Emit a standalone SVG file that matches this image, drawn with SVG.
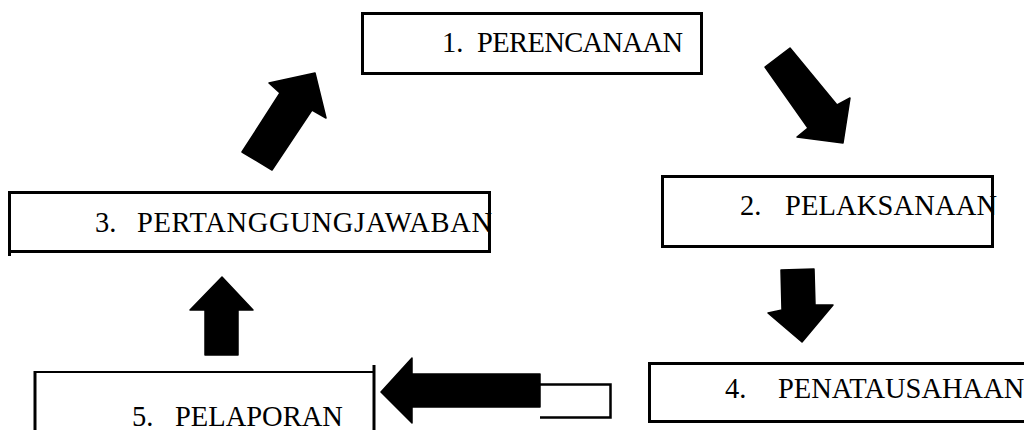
<svg xmlns="http://www.w3.org/2000/svg" width="1024" height="430" viewBox="0 0 1024 430">
<style>
.box{fill:none;stroke:#000;stroke-width:3}
.t{font-family:"Liberation Serif","Times New Roman",serif;font-size:28.5px;fill:#000}
.arr{fill:#000;stroke:#000;stroke-width:1.5;stroke-linejoin:round}
</style>
<rect width="1024" height="430" fill="#fff"/>
<g id="node1">
<rect class="box" x="362.5" y="13.5" width="339" height="60"/>
<text class="t" x="442" y="52">1. <tspan x="477" textLength="206">PERENCANAAN</tspan></text>
</g>
<g id="node2">
<rect class="box" x="662.5" y="176.5" width="330" height="70"/>
<text class="t" x="740" y="215">2.<tspan x="785" textLength="212">PELAKSANAAN</tspan></text>
</g>
<g id="node3">
<rect class="box" x="9.5" y="192.5" width="480" height="59"/>
<line class="box" x1="9.5" y1="251" x2="9.5" y2="256"/>
<text class="t" x="95" y="232">3.<tspan x="137" textLength="355">PERTANGGUNGJAWABAN</tspan></text>
</g>
<g id="node4">
<rect class="box" x="649.5" y="363.5" width="390" height="58"/>
<text class="t" x="725" y="398">4.<tspan x="778">PENATAUSAHAAN</tspan></text>
</g>
<g id="node5">
<path d="M35,372 H374" fill="none" stroke="#000" stroke-width="2"/>
<path d="M35,371 V431" fill="none" stroke="#000" stroke-width="3"/>
<path d="M374,365 V431" fill="none" stroke="#000" stroke-width="3"/>
<text class="t" x="132" y="426">5.<tspan x="175">PELAPORAN</tspan></text>
</g>
<g id="connectors">
<path class="arr" d="M242,152 L280,93 L269,83 L315,73 L326,118 L312,110 L272,170 Z"/>
<path class="arr" d="M765,67 L790,48 L837,105 L850,98 L843,143 L797,137 L808,128 Z"/>
<path class="arr" d="M781,270 L814,269 L815,305 L833,305 L802,342 L768,313 L782,310 Z"/>
<path class="arr" d="M222,277 L253,310 L238,310 L238,355 L205,355 L205,310 L190,310 Z"/>
<path class="arr" d="M381,392 L412,358 L412,374 L540,374 L540,407 L412,407 L412,423 Z"/>
<path d="M540,384.5 H610.5 V417.5 H540" fill="none" stroke="#000" stroke-width="2.5"/>
</g>
</svg>
